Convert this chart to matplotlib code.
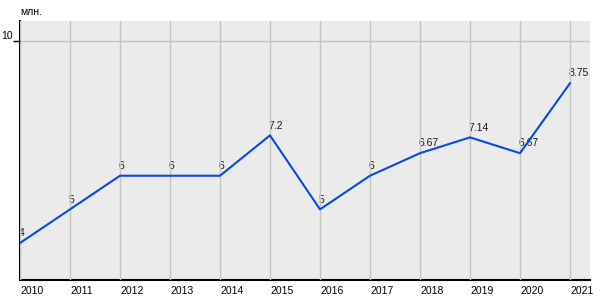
import matplotlib.pyplot as plt

years = [2010, 2011, 2012, 2013, 2014, 2015, 2016, 2017, 2018, 2019, 2020, 2021]
values = [4, 5, 6, 6, 6, 7.2, 5, 6, 6.67, 7.14, 6.67, 8.75]
labels = ["4", "5", "6", "6", "6", "7.2", "5", "6", "6.67", "7.14", "6.67", "8.75"]

plt.rcParams['font.family'] = ['Liberation Sans', 'DejaVu Sans']

fig = plt.figure(figsize=(6, 3), dpi=100)
ax = fig.add_axes([20/600, 20/300, 570/600, 259/300])
ax.set_facecolor('#ebebeb')

ax.plot(years, values, color='#0848e6', linewidth=1.5, zorder=3)
for x, y, t in zip(years, values, labels):
    ax.annotate(t, (x, y), xytext=(-1, 3.5), textcoords='offset points',
                ha='left', va='bottom', fontsize=7.5, color='#1a1a1a', zorder=1)

ax.set_xlim(2010, 2021.4)
ax.set_ylim(2.9, 10.6)
ax.set_xticks(years)
ax.set_xticklabels([str(y) for y in years], ha='left')
ax.set_yticks([10])
ax.set_yticklabels(['10'], va='bottom')

ax.set_axisbelow(False)
ax.grid(True, color='#c4c4c4', linewidth=1)
ax.tick_params(axis='x', length=0, labelsize=7.5, pad=4)
ax.tick_params(axis='y', length=5, width=1, labelsize=7.5, pad=0)

for s in ['top', 'right']:
    ax.spines[s].set_visible(False)
for s in ['left', 'bottom']:
    ax.spines[s].set_linewidth(1.5)
    ax.spines[s].set_color('black')

fig.text(20/600, 1 - 12/300, 'млн.', fontsize=7.5, va='center', ha='left')

fig.savefig('out.png', dpi=100)
